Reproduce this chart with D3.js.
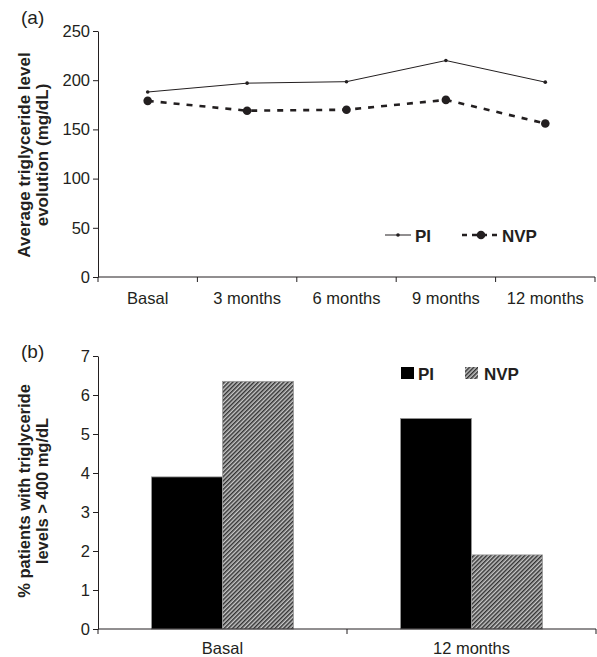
<!DOCTYPE html>
<html>
<head>
<meta charset="utf-8">
<script src="https://cdn.jsdelivr.net/npm/d3@7"></script>
<style>
  body { margin: 0; background: #fff; }
  text { font-family: "Liberation Sans", Arial, sans-serif; fill: #231f20; }
</style>
</head>
<body>
<div id="chart"></div>
<script>
// data
const months = ["Basal", "3 months", "6 months", "9 months", "12 months"];
const piAvg = [188, 197, 198.5, 220, 198];
const nvpAvg = [179, 169, 170, 180, 156];
const avgTicks = [0, 50, 100, 150, 200, 250];

const groups = ["Basal", "12 months"];
const piPct = [3.9, 5.4];
const nvpPct = [6.35, 1.9];
const pctTicks = [0, 1, 2, 3, 4, 5, 6, 7];

const W = 597, H = 657;
const ink = "#231f20";
const tickFont = "16.5px";

const svg = d3.select("#chart").append("svg")
  .attr("width", W)
  .attr("height", H);

// hatch for NVP bars
const defs = svg.append("defs");
const hatch = defs.append("pattern")
  .attr("id", "hatch")
  .attr("patternUnits", "userSpaceOnUse")
  .attr("width", 3).attr("height", 3)
  .attr("patternTransform", "rotate(45)");
hatch.append("rect").attr("width", 3).attr("height", 3).attr("fill", "#c8c8c8");
hatch.append("rect").attr("width", 1.5).attr("height", 3).attr("fill", "#333");

/* ---------- panel (a) ---------- */
const a = svg.append("g");
const xa = d3.scaleBand().domain(months).range([98, 595]);
const ya = d3.scaleLinear().domain([0, 250]).range([277, 31]);

a.append("g")
  .attr("transform", "translate(98,0)")
  .call(d3.axisLeft(ya).tickValues(avgTicks).tickSize(5).tickSizeOuter(0))
  .call(g => g.selectAll("text").style("font-size", tickFont).style("font-family", null));

// x axis with ticks between bands
const xaAxis = a.append("g").attr("transform", "translate(0,277)");
xaAxis.append("line").attr("x1", 98).attr("x2", 595).attr("stroke", ink);
xaAxis.selectAll(".tk").data(months.concat(["end"])).enter().append("line")
  .attr("x1", (d, i) => i < months.length ? xa(d) : xa.range()[1])
  .attr("x2", (d, i) => i < months.length ? xa(d) : xa.range()[1])
  .attr("y1", 0).attr("y2", 5).attr("stroke", ink);
xaAxis.selectAll(".lab").data(months).enter().append("text")
  .attr("x", d => xa(d) + xa.bandwidth() / 2)
  .attr("y", 27)
  .attr("text-anchor", "middle")
  .style("font-size", tickFont)
  .text(d => d);

a.selectAll(".domain, .tick line").attr("stroke", ink);

const cx = d => xa(d) + xa.bandwidth() / 2;
const lineA = d3.line().x((d, i) => cx(months[i])).y(d => ya(d));

a.append("path").datum(piAvg)
  .attr("d", lineA).attr("fill", "none").attr("stroke", ink).attr("stroke-width", 1);
a.selectAll(".pi").data(piAvg).enter().append("circle")
  .attr("cx", (d, i) => cx(months[i])).attr("cy", d => ya(d)).attr("r", 1.8).attr("fill", ink);

a.append("path").datum(nvpAvg)
  .attr("d", lineA).attr("fill", "none").attr("stroke", ink)
  .attr("stroke-width", 2.6).attr("stroke-dasharray", "6,7");
a.selectAll(".nvp").data(nvpAvg).enter().append("circle")
  .attr("cx", (d, i) => cx(months[i])).attr("cy", d => ya(d)).attr("r", 4.3).attr("fill", ink);

// legend (a)
a.append("line").attr("x1", 385).attr("x2", 411).attr("y1", 235).attr("y2", 235)
  .attr("stroke", ink).attr("stroke-width", 1);
a.append("circle").attr("cx", 398).attr("cy", 235).attr("r", 1.8).attr("fill", ink);
a.append("text").attr("x", 415).attr("y", 241.5).style("font-size", "17px")
  .style("font-weight", "bold").text("PI");
a.append("line").attr("x1", 462).attr("x2", 501).attr("y1", 235).attr("y2", 235)
  .attr("stroke", ink).attr("stroke-width", 2.6).attr("stroke-dasharray", "5,5");
a.append("circle").attr("cx", 481).attr("cy", 235).attr("r", 4.3).attr("fill", ink);
a.append("text").attr("x", 502).attr("y", 241.5).style("font-size", "17px")
  .style("font-weight", "bold").text("NVP");

a.append("text").attr("x", 21).attr("y", 24).style("font-size", "19px").text("(a)");
const ta = a.append("text").attr("transform", "translate(0,155) rotate(-90)")
  .attr("text-anchor", "middle").style("font-size", "17px").style("font-weight", "bold");
ta.append("tspan").attr("x", 0).attr("y", 30).text("Average triglyceride level");
ta.append("tspan").attr("x", 0).attr("y", 48).text("evolution (mg/dL)");

/* ---------- panel (b) ---------- */
const b = svg.append("g");
const xb = d3.scaleBand().domain(groups).range([98, 596]);
const xin = d3.scaleBand().domain(["PI", "NVP"]).range([0, 142]);
const yb = d3.scaleLinear().domain([0, 7]).range([629, 356]);

b.append("g")
  .attr("transform", "translate(98,0)")
  .call(d3.axisLeft(yb).tickValues(pctTicks).tickFormat(d3.format("d")).tickSize(5).tickSizeOuter(0))
  .call(g => g.selectAll("text").style("font-size", tickFont).style("font-family", null));
b.selectAll(".domain, .tick line").attr("stroke", ink);

const rows = groups.map((g, i) => ({ g, PI: piPct[i], NVP: nvpPct[i] }));
const gb = b.selectAll(".grp").data(rows).enter().append("g")
  .attr("transform", d => "translate(" + (xb(d.g) + xb.bandwidth() / 2 - 71) + ",0)");
gb.selectAll("rect").data(d => ["PI", "NVP"].map(k => ({ k, v: d[k] }))).enter().append("rect")
  .attr("x", d => xin(d.k))
  .attr("y", d => yb(d.v))
  .attr("width", xin.bandwidth())
  .attr("height", d => yb(0) - yb(d.v))
  .attr("fill", d => d.k === "PI" ? "#000" : "url(#hatch)")
  .attr("stroke", "#9a9a9a").attr("stroke-width", 0.8);

const xbAxis = b.append("g").attr("transform", "translate(0,629)");
xbAxis.append("line").attr("x1", 98).attr("x2", 596).attr("stroke", ink);
xbAxis.selectAll(".tk").data([98, 347, 596]).enter().append("line")
  .attr("x1", d => d).attr("x2", d => d).attr("y1", 0).attr("y2", 5).attr("stroke", ink);
xbAxis.selectAll(".lab").data(groups).enter().append("text")
  .attr("x", d => xb(d) + xb.bandwidth() / 2)
  .attr("y", 25)
  .attr("text-anchor", "middle")
  .style("font-size", tickFont)
  .text(d => d);

// legend (b)
b.append("rect").attr("x", 401).attr("y", 367).attr("width", 13).attr("height", 12).attr("fill", "#000");
b.append("text").attr("x", 418).attr("y", 379.5).style("font-size", "17px")
  .style("font-weight", "bold").text("PI");
b.append("rect").attr("x", 465).attr("y", 367).attr("width", 13).attr("height", 12).attr("fill", "url(#hatch)");
b.append("text").attr("x", 484).attr("y", 379.5).style("font-size", "17px")
  .style("font-weight", "bold").text("NVP");

b.append("text").attr("x", 21).attr("y", 358).style("font-size", "19px").text("(b)");
const tb = b.append("text").attr("transform", "translate(0,491) rotate(-90)")
  .attr("text-anchor", "middle").style("font-size", "16.5px").style("font-weight", "bold");
tb.append("tspan").attr("x", 0).attr("y", 30).text("% patients with triglyceride");
tb.append("tspan").attr("x", 0).attr("y", 48).text("levels > 400 mg/dL");
</script>
</body>
</html>
